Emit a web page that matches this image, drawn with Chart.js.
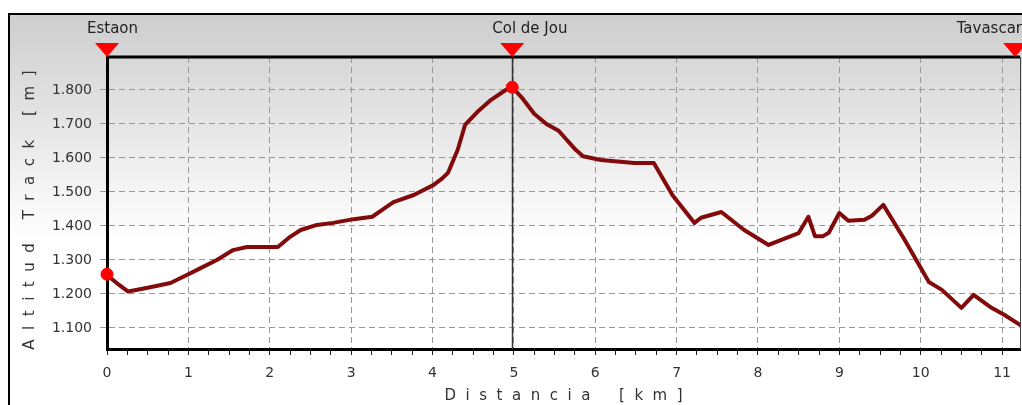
<!DOCTYPE html>
<html>
<head>
<meta charset="utf-8">
<script src="https://cdn.jsdelivr.net/npm/chart.js@4.4.1/dist/chart.umd.min.js"></script>
<style>
  html, body { margin: 0; padding: 0; background: #fff; }
  #wrap { position: relative; width: 1022px; height: 405px; }
</style>
</head>
<body>
<div id="wrap"><canvas id="profile" width="1022" height="405"></canvas></div>
<script>
// perfil del track: distancia (km) i altitud (m)
var distKm = [0.00, 0.12, 0.26, 0.50, 0.78, 1.00, 1.15, 1.35, 1.55, 1.72, 2.10, 2.25, 2.38, 2.58, 2.78,
  3.03, 3.26, 3.40, 3.52, 3.77, 4.01, 4.12, 4.19, 4.31, 4.40, 4.55, 4.72, 4.90, 4.98, 5.09,
  5.25, 5.40, 5.55, 5.76, 5.85, 6.07, 6.48, 6.72, 6.95, 7.22, 7.30, 7.55, 7.83, 8.13, 8.50,
  8.62, 8.70, 8.80, 8.87, 9.00, 9.11, 9.31, 9.40, 9.54, 9.80, 10.10, 10.26, 10.50, 10.65, 10.87,
  11.03, 11.22];
var altM = [1255, 1232, 1207, 1218, 1232, 1258, 1276, 1300, 1329, 1338, 1338, 1368, 1388, 1403, 1409,
  1420, 1427, 1450, 1470, 1491, 1520, 1540, 1556, 1624, 1697, 1735, 1771, 1800, 1808, 1780,
  1730, 1700, 1680, 1624, 1605, 1594, 1585, 1585, 1490, 1409, 1424, 1441, 1388, 1344, 1379,
  1427, 1370, 1370, 1380, 1438, 1415, 1418, 1430, 1462, 1360, 1235, 1212, 1159, 1197, 1159,
  1138, 1109];

// waypoints
var wpNames = ['Estaon', 'Col de Jou', 'Tavascar'];
var wpKm = [0, 4.98, 11.16];
var wpLine = [false, true, false];
var dotKm = [0, 4.98];
var dotAlt = [1258, 1808];

// eixos
var altTicks = [1100, 1200, 1300, 1400, 1500, 1600, 1700, 1800];
var kmLabels = [0, 1, 2, 3, 4, 5, 6, 7, 8, 9, 10, 11];
var altMin = 1038, altMax = 1897;
var kmMin = 0, kmMax = 11.22;

var FONT = 'DejaVu Sans';

function fmtAlt(v) {
  return String(v).replace(/\B(?=(\d{3})+(?!\d))/g, '.');
}
function isLabelKm(v) {
  return kmLabels.some(function(k) { return Math.abs(k - v) < 1e-6; });
}

// fons, marc i capçalera
var backgroundPlugin = {
  id: 'background',
  beforeDraw: function(chart) {
    var ctx = chart.ctx, w = chart.width, h = chart.height;
    ctx.save();
    ctx.fillStyle = '#fff';
    ctx.fillRect(0, 0, w, h);
    var g = ctx.createLinearGradient(0, 13, 0, 240);
    g.addColorStop(0, '#cdcdcd');
    g.addColorStop(1, '#ffffff');
    ctx.fillStyle = g;
    ctx.fillRect(8, 13, w - 8, h - 13);
    ctx.strokeStyle = '#000';
    ctx.lineWidth = 2;
    ctx.beginPath();
    ctx.moveTo(9, h);
    ctx.lineTo(9, 14);
    ctx.lineTo(w, 14);
    ctx.stroke();
    ctx.restore();
  },
  beforeDatasetsDraw: function(chart) {
    var ctx = chart.ctx, a = chart.chartArea, xs = chart.scales.x;
    ctx.save();
    ctx.strokeStyle = '#333';
    ctx.lineWidth = 1.5;
    wpKm.forEach(function(km, i) {
      if (!wpLine[i]) return;
      var px = Math.round(xs.getPixelForValue(km)) + 0.5;
      ctx.beginPath();
      ctx.moveTo(px, a.top);
      ctx.lineTo(px, a.bottom);
      ctx.stroke();
    });
    ctx.restore();
  },
  afterDraw: function(chart) {
    var ctx = chart.ctx, a = chart.chartArea, xs = chart.scales.x;
    ctx.save();
    // vora superior i dreta
    ctx.strokeStyle = '#000';
    ctx.lineWidth = 3;
    ctx.beginPath();
    ctx.moveTo(a.left - 1, a.top);
    ctx.lineTo(a.right, a.top);
    ctx.stroke();
    ctx.strokeStyle = '#444';
    ctx.lineWidth = 1;
    ctx.beginPath();
    ctx.moveTo(a.right + 0.5, a.top);
    ctx.lineTo(a.right + 0.5, a.bottom);
    ctx.stroke();
    // marcadors
    ctx.font = '15px "' + FONT + '"';
    ctx.textBaseline = 'alphabetic';
    ctx.textAlign = 'left';
    wpKm.forEach(function(km, i) {
      var px = xs.getPixelForValue(km);
      ctx.fillStyle = '#ff0000';
      ctx.beginPath();
      ctx.moveTo(px - 12, a.top - 14);
      ctx.lineTo(px + 12, a.top - 14);
      ctx.lineTo(px, a.top);
      ctx.closePath();
      ctx.fill();
      var tw = ctx.measureText(wpNames[i]).width;
      var tx = Math.min(px - 20, chart.width - tw);
      ctx.fillStyle = '#222';
      ctx.fillText(wpNames[i], tx, 33);
    });
    ctx.restore();
  }
};

var chart = new Chart(document.getElementById('profile'), {
  type: 'line',
  data: {
    datasets: [
      {
        label: 'waypoints',
        data: dotKm.map(function(k, i) { return { x: k, y: dotAlt[i] }; }),
        showLine: false,
        pointRadius: 6,
        pointBackgroundColor: '#ff0000',
        pointBorderColor: '#ff0000',
        pointBorderWidth: 1,
        clip: false
      },
      {
        label: 'Altitud Track',
        data: distKm.map(function(k, i) { return { x: k, y: altM[i] }; }),
        borderColor: '#820a0a',
        borderWidth: 4,
        pointRadius: 0,
        tension: 0,
        fill: false,
        borderJoinStyle: 'round',
        borderCapStyle: 'round'
      }
    ]
  },
  options: {
    responsive: false,
    animation: false,
    devicePixelRatio: 1,
    layout: { autoPadding: false, padding: { top: 57, right: 2, left: 0, bottom: 0 } },
    plugins: {
      legend: { display: false },
      tooltip: { enabled: false }
    },
    scales: {
      x: {
        type: 'linear',
        min: kmMin,
        max: kmMax,
        afterFit: function(s) { s.height = 56; s.paddingLeft = 0; s.paddingRight = 0; },
        afterBuildTicks: function(s) {
          var t = [];
          for (var q = 0; q <= kmMax * 4; q++) t.push({ value: q / 4 });
          s.ticks = t;
        },
        ticks: {
          autoSkip: false,
          maxRotation: 0,
          padding: 10,
          color: '#333',
          font: { family: FONT, size: 14 },
          callback: function(v) { return isLabelKm(v) ? String(Math.round(v)) : ''; }
        },
        grid: {
          color: function(c) { return c.tick && isLabelKm(c.tick.value) ? '#999' : 'rgba(0,0,0,0)'; },
          tickColor: '#222',
          tickLength: 6,
          lineWidth: 1
        },
        border: { color: '#000', width: 3, dash: [6, 4] },
        title: {
          display: true,
          text: 'D  i  s  t  a  n  c  i  a      [  k  m  ]',
          color: '#333',
          font: { family: FONT, size: 15 },
          padding: { top: 0, bottom: 0 }
        }
      },
      y: {
        type: 'linear',
        min: altMin,
        max: altMax,
        afterFit: function(s) { s.width = 107; s.paddingTop = 0; s.paddingBottom = 0; },
        afterBuildTicks: function(s) {
          s.ticks = altTicks.map(function(v) { return { value: v }; });
        },
        ticks: {
          padding: 8,
          color: '#333',
          font: { family: FONT, size: 14 },
          callback: function(v) { return fmtAlt(v); }
        },
        grid: {
          color: '#999',
          tickColor: '#999',
          tickLength: 7,
          lineWidth: 1
        },
        border: { color: '#000', width: 3, dash: [6, 4] },
        title: {
          display: true,
          text: 'A  l  t  i  t  u  d     T  r  a  c  k     [  m  ]   ',
          color: '#333',
          font: { family: FONT, size: 15 },
          padding: { top: 21, bottom: 0 }
        }
      }
    }
  },
  plugins: [backgroundPlugin]
});
</script>
</body>
</html>
